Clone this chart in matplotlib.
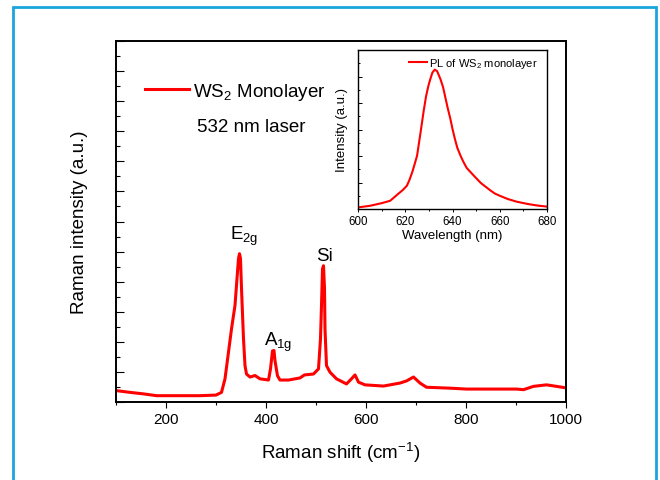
import matplotlib
matplotlib.use("Agg")
import matplotlib.pyplot as plt
from matplotlib.patches import Rectangle
from matplotlib.ticker import MultipleLocator, NullFormatter

plt.rcParams['font.family'] = ['Liberation Sans', 'DejaVu Sans']
plt.rcParams['mathtext.fontset'] = 'custom'
plt.rcParams['mathtext.rm'] = 'Liberation Sans'
plt.rcParams['mathtext.it'] = 'Liberation Sans:italic'

# Raman spectrum (cm^-1, a.u.)
raman_shift = [100, 128, 155, 181, 235, 268, 300, 311, 318, 325, 331, 338, 341, 345, 347,
               349, 351, 355, 358, 361, 368, 378, 388, 405, 409, 413, 416, 418, 423, 428,
               445, 468, 477, 495, 505, 509, 511, 513, 515, 517, 518, 521, 528, 541, 561,
               571, 578, 585, 598, 635, 668, 681, 695, 708, 721, 768, 801, 848, 901, 915,
               935, 961, 981, 1000]
raman_int = [0.38, 0.32, 0.27, 0.21, 0.21, 0.21, 0.23, 0.32, 0.77, 1.66, 2.43, 3.21, 3.88, 4.77, 4.93,
             4.77, 3.77, 2.10, 1.21, 0.93, 0.83, 0.88, 0.77, 0.73, 1.10, 1.70, 1.71, 1.37, 0.87, 0.73,
             0.73, 0.80, 0.90, 0.93, 1.10, 2.10, 3.21, 4.43, 4.53, 3.77, 2.43, 1.21, 0.99, 0.77, 0.60,
             0.77, 0.90, 0.66, 0.57, 0.53, 0.63, 0.70, 0.83, 0.63, 0.49, 0.46, 0.43, 0.43, 0.43, 0.41,
             0.52, 0.57, 0.52, 0.47]

# PL spectrum for the inset (nm, a.u.)
pl_wl = [600, 605, 610, 613.6, 617, 619, 620.7, 621.8, 623, 624, 625, 626.5, 627.8, 628.8, 629.8,
         630.6, 631.5, 632.5, 633.5, 634.9, 636, 637, 638, 639.1, 640, 641, 642, 643.4, 644.5,
         646, 649, 652, 656.2, 658, 660, 663.3, 667, 671.8, 676, 680]
pl_int = [0.06, 0.12, 0.22, 0.31, 0.57, 0.72, 0.88, 1.10, 1.40, 1.70, 2.01, 2.90, 3.70, 4.25, 4.65,
          4.90, 5.15, 5.26, 5.20, 4.90, 4.60, 4.20, 3.80, 3.40, 3.02, 2.65, 2.32, 2.01, 1.80,
          1.55, 1.26, 0.98, 0.69, 0.58, 0.50, 0.38, 0.28, 0.19, 0.13, 0.09]

# peak labels
peak_names = ['E$\\mathregular{_{2g}}$', 'A$\\mathregular{_{1g}}$', 'Si']
peak_pos = [(328, 5.43), (396, 1.9), (501, 4.71)]

fig = plt.figure(figsize=(6.6, 4.81), dpi=100)

# blue frame round the whole picture
fig.patches.append(Rectangle((13 / 660, -0.05), 642.5 / 660, 473.5 / 481 + 0.05,
                             transform=fig.transFigure, fill=False,
                             edgecolor='#1aa5dc', linewidth=2.0))

ax = fig.add_axes([116 / 660, 78 / 481, 450 / 660, 361 / 481])
ax.plot(raman_shift, raman_int, color='red', lw=2.2, label='WS$_2$ Monolayer')
ax.set_xlim(100, 1000)
ax.set_ylim(0, 12)
ax.xaxis.set_major_locator(MultipleLocator(200))
ax.xaxis.set_minor_locator(MultipleLocator(100))
ax.yaxis.set_major_locator(MultipleLocator(1))
ax.yaxis.set_minor_locator(MultipleLocator(0.5))
ax.yaxis.set_major_formatter(NullFormatter())
ax.tick_params(axis='x', which='major', direction='out', length=4.3, width=0.8, labelsize=11, pad=3)
ax.tick_params(axis='x', which='minor', direction='out', length=2.2, width=0.8)
ax.tick_params(axis='y', which='major', direction='in', length=5.5, width=0.8)
ax.tick_params(axis='y', which='minor', direction='in', length=2.7, width=0.8)
for s in ax.spines.values():
    s.set_linewidth(1.4)
ax.set_xlabel('Raman shift (cm$^{-1}$)', fontsize=13.5, labelpad=10)
ax.set_ylabel('Raman intensity (a.u.)', fontsize=13.5, labelpad=17)

ax.legend(loc='center left', bbox_to_anchor=(0.064, 0.861), frameon=False, fontsize=13.5,
          handlelength=2.35, handletextpad=0.2, borderpad=0, borderaxespad=0)
ax.text(0.179, 0.7515, '532 nm laser', transform=ax.transAxes, fontsize=13.5,
        ha='left', va='baseline')

for name, (px, py) in zip(peak_names, peak_pos):
    ax.text(px, py, name, fontsize=13.5, ha='left', va='baseline')

# inset with the PL peak
ins = fig.add_axes([358 / 660, 271 / 481, 189 / 660, 159 / 481])
ins.plot(pl_wl, pl_int, color='red', lw=1.5, label='PL of WS$_2$ monolayer')
ins.set_xlim(600, 680)
ins.set_ylim(0, 6)
ins.xaxis.set_major_locator(MultipleLocator(20))
ins.xaxis.set_minor_locator(MultipleLocator(10))
ins.yaxis.set_major_locator(MultipleLocator(1))
ins.yaxis.set_minor_locator(MultipleLocator(0.5))
ins.yaxis.set_major_formatter(NullFormatter())
ins.tick_params(axis='x', which='major', direction='out', length=2.5, width=0.7, labelsize=8.3, pad=2)
ins.tick_params(axis='x', which='minor', direction='out', length=1.5, width=0.7)
ins.tick_params(axis='y', which='major', direction='in', length=2.6, width=0.7)
ins.tick_params(axis='y', which='minor', direction='in', length=1.4, width=0.7)
for s in ins.spines.values():
    s.set_linewidth(1.0)
ins.set_xlabel('Wavelength (nm)', fontsize=9.5, labelpad=1)
ins.set_ylabel('Intensity (a.u.)', fontsize=9.5, labelpad=4)
ins.legend(loc='center left', bbox_to_anchor=(0.27, 0.92), frameon=False, fontsize=8,
           handlelength=1.6, handletextpad=0.2, borderpad=0, borderaxespad=0)

fig.savefig('out.png', dpi=100)
